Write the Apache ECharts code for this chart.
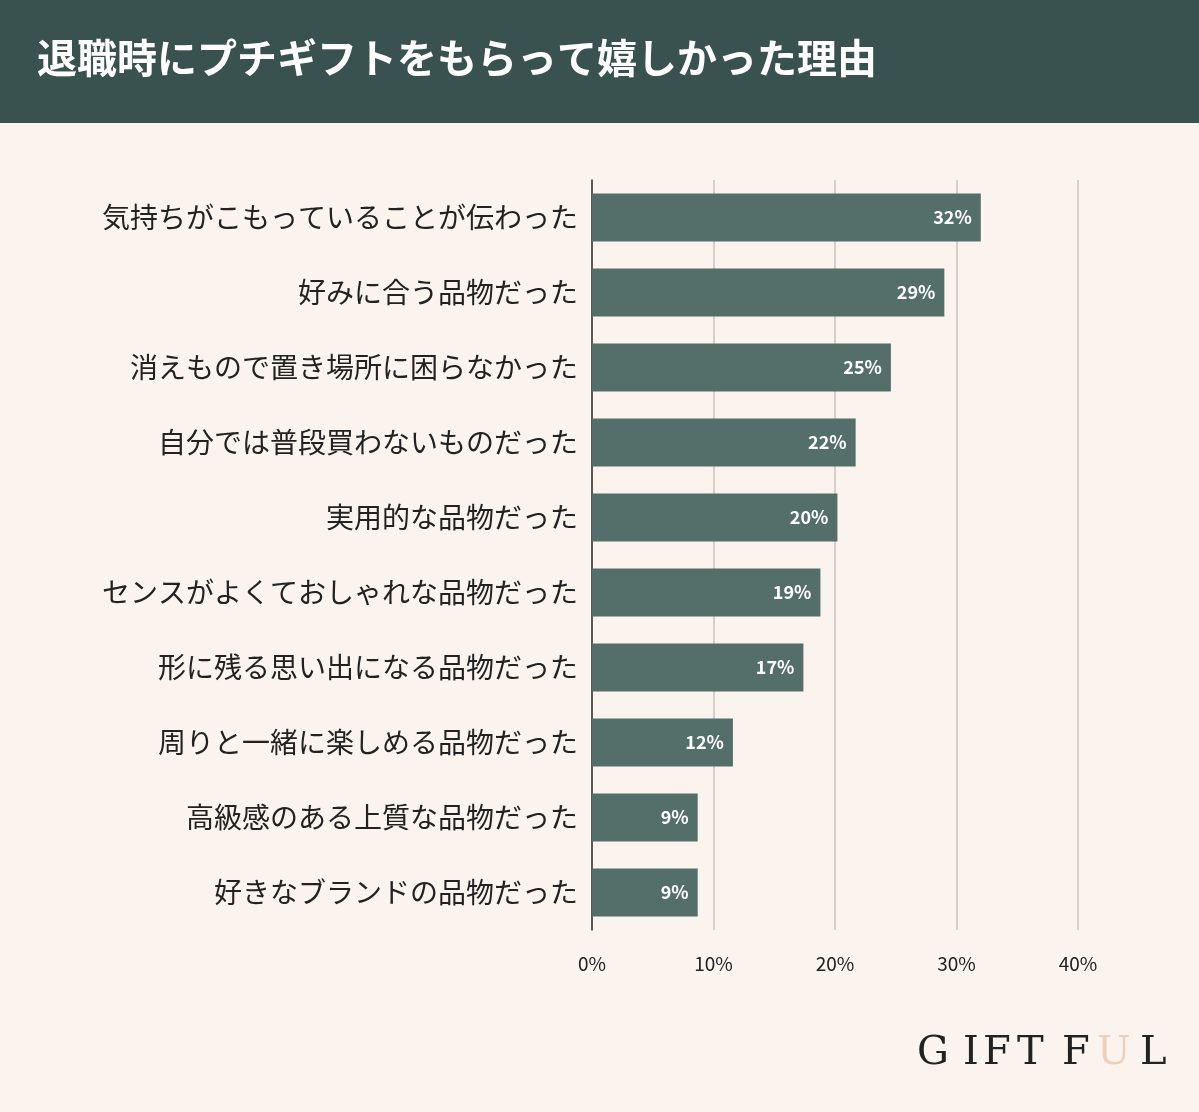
<!DOCTYPE html>
<html><head><meta charset="utf-8">
<script src="https://cdn.jsdelivr.net/npm/echarts@6/dist/echarts.min.js"></script>
<style>html,body{margin:0;padding:0;background:#fbf3ee}#c{width:1199px;height:1112px}</style>
</head><body><div id="c"></div>
<script>
var reasons = ['気持ちがこもっていることが伝わった','好みに合う品物だった','消えもので置き場所に困らなかった','自分では普段買わないものだった','実用的な品物だった','センスがよくておしゃれな品物だった','形に残る思い出になる品物だった','周りと一緒に楽しめる品物だった','高級感のある上質な品物だった','好きなブランドの品物だった']
// bar lengths as drawn, and the rounded labels printed on them
var shares = [32, 29, 24.6, 21.7, 20.2, 18.8, 17.4, 11.6, 8.7, 8.7]
var labels = ['32%', '29%', '25%', '22%', '20%', '19%', '17%', '12%', '9%', '9%']
var font = '"Noto Sans CJK JP", "Noto Sans", sans-serif'

// logo letters, spread out like the brand mark
var logo = 'GIFTFUL'.split('')
var logoX = [917, 963, 983, 1017, 1062, 1097, 1140]

var graphics = [
  { type: 'rect', shape: { x: 0, y: 0, width: 1199, height: 123 }, style: { fill: '#3a524f' } },
  { type: 'text', left: 37, top: 38, style: { text: '退職時にプチギフトをもらって嬉しかった理由', fill: '#fff', font: 'bold 40px ' + font } }
]
logo.forEach(function (ch, i) {
  graphics.push({ type: 'text', x: logoX[i], y: 1034, style: { text: ch, fill: ch === 'U' ? '#ecd0b8' : '#222', font: '200 40px "DejaVu Serif", serif' } })
})

var chart = echarts.init(document.getElementById('c'))
chart.setOption({
  backgroundColor: '#fbf3ee',
  graphic: graphics,
  grid: { left: 592, right: 121, top: 180, bottom: 182 },
  xAxis: {
    type: 'value', min: 0, max: 40, interval: 10,
    axisLabel: { formatter: '{value}%', color: '#222', fontSize: 19, fontFamily: font, margin: 24 },
    splitLine: { lineStyle: { color: '#c9c2c0', width: 1.5 } }
  },
  yAxis: {
    type: 'category', inverse: true, data: reasons,
    axisLine: { lineStyle: { color: '#333', width: 1.5 } },
    axisTick: { show: false },
    axisLabel: { color: '#222', fontSize: 28, fontFamily: font, margin: 14 }
  },
  series: [{
    type: 'bar', data: shares, barWidth: 48,
    itemStyle: { color: '#546f6a' },
    label: { show: true, position: 'insideRight', formatter: function (p) { return labels[p.dataIndex] }, color: '#fff', fontWeight: 'bold', fontSize: 18, fontFamily: font, distance: 9 }
  }]
})
</script></body></html>
